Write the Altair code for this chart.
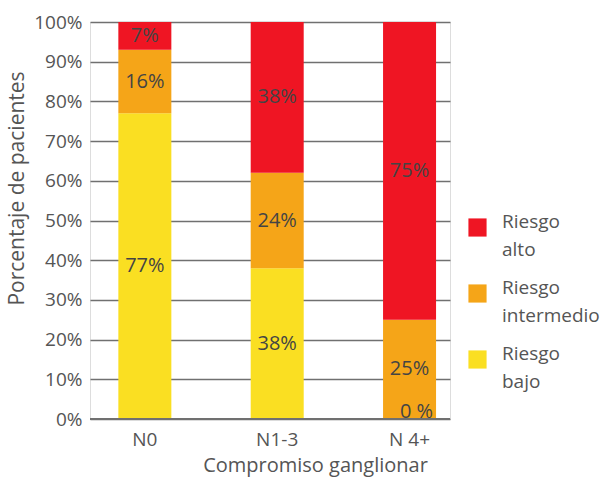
import altair as alt
import pandas as pd

# Nodal involvement groups and risk distribution (%)
grupos = ["N0", "N1-3", "N 4+"]
riesgos = ["Riesgo bajo", "Riesgo intermedio", "Riesgo alto"]
bajo = [77, 38, 0]
intermedio = [16, 24, 25]
alto = [7, 38, 75]
etiquetas = {
    "Riesgo bajo": ["77%", "38%", "0 %"],
    "Riesgo intermedio": ["16%", "24%", "25%"],
    "Riesgo alto": ["7%", "38%", "75%"],
}
colores = ["#EF1523", "#F5A518", "#FADF22"]  # alto, intermedio, bajo
ticks_y = list(range(0, 101, 10))

valores = {"Riesgo bajo": bajo, "Riesgo intermedio": intermedio, "Riesgo alto": alto}

filas = []
for i, g in enumerate(grupos):
    base = 0
    for r in riesgos:
        v = valores[r][i]
        filas.append({
            "grupo": g, "riesgo": r, "valor": v,
            "inicio": base, "fin": base + v, "centro": base + v / 2,
            "etiqueta": etiquetas[r][i],
        })
        base += v
df = pd.DataFrame(filas)

FONT = "Open Sans"
GRIS = "#555555"

x_scale = alt.Scale(paddingInner=0.6, paddingOuter=0.16, align=0.67)
y_scale = alt.Scale(domain=[0, 100], nice=False)

# Shared axis definitions so that every layer merges into the same guides
x_axis = alt.Axis(labelAngle=0, ticks=False, domain=False, labelPadding=11,
                  labelFontSize=19, labelColor=GRIS, titleFontSize=20,
                  titleColor=GRIS, titleFontWeight="normal", titlePadding=6,
                  titleX=225, labelFont=FONT, titleFont=FONT)
y_axis = alt.Axis(values=ticks_y, labelExpr="datum.value + '%'",
                  tickCount=len(ticks_y) + 1,
                  labelOverlap=False, domain=False, ticks=False, grid=True,
                  gridColor="#707070", gridWidth=1.5, labelPadding=8,
                  labelFontSize=19, labelColor=GRIS, titleFontSize=21,
                  titleColor=GRIS, titleFontWeight="normal", titlePadding=6,
                  titleY=166, labelFont=FONT, titleFont=FONT)

X_TITLE = "Compromiso ganglionar"
Y_TITLE = "Porcentaje de pacientes"


def x_enc():
    return alt.X("grupo:N", sort=grupos, title=X_TITLE, scale=x_scale, axis=x_axis)


def y_enc(campo):
    return alt.Y(campo, scale=y_scale, title=Y_TITLE, axis=y_axis)


barras = alt.Chart(df).mark_bar(size=53).encode(
    x=x_enc(),
    y=y_enc("inicio:Q"),
    y2="fin:Q",
    color=alt.Color("riesgo:N",
                    scale=alt.Scale(domain=["Riesgo alto", "Riesgo intermedio", "Riesgo bajo"],
                                    range=colores),
                    legend=alt.Legend(title=None, orient="none", legendX=378, legendY=196,
                                      symbolType="square", symbolSize=330,
                                      symbolStrokeWidth=0, labelFontSize=19,
                                      labelColor=GRIS, labelFont=FONT,
                                      labelExpr="split(datum.label, ' ')",
                                      labelBaseline="alphabetic",
                                      labelOffset=15, rowPadding=18, labelLimit=200)),
)

textos = alt.Chart(df).transform_filter("datum.valor > 0").mark_text(
    fontSize=20, color="#444444", font=FONT, baseline="middle"
).encode(x=x_enc(), y=y_enc("centro:Q"), text="etiqueta:N")

cero = alt.Chart(df).transform_filter("datum.valor == 0").mark_text(
    fontSize=20, color="#444444", font=FONT, baseline="bottom", dx=7, dy=3
).encode(x=x_enc(), y=y_enc("centro:Q"), text="etiqueta:N")

eje = alt.Chart(df).transform_filter("datum.inicio == 0").mark_rule(
    color="#707070", strokeWidth=1.5
).encode(y=y_enc("inicio:Q"))

chart = (barras + eje + textos + cero).properties(
    width=360, height=397,
    autosize=alt.AutoSizeParams(type="none"),
    padding={"left": 90, "top": 22, "right": 153, "bottom": 62},
).configure_view(stroke=None).configure(
    font=FONT, style={"guide-label": {"lineHeight": 28}}
)

chart.save("out.html", embed_options={"renderer": "svg", "actions": False})
